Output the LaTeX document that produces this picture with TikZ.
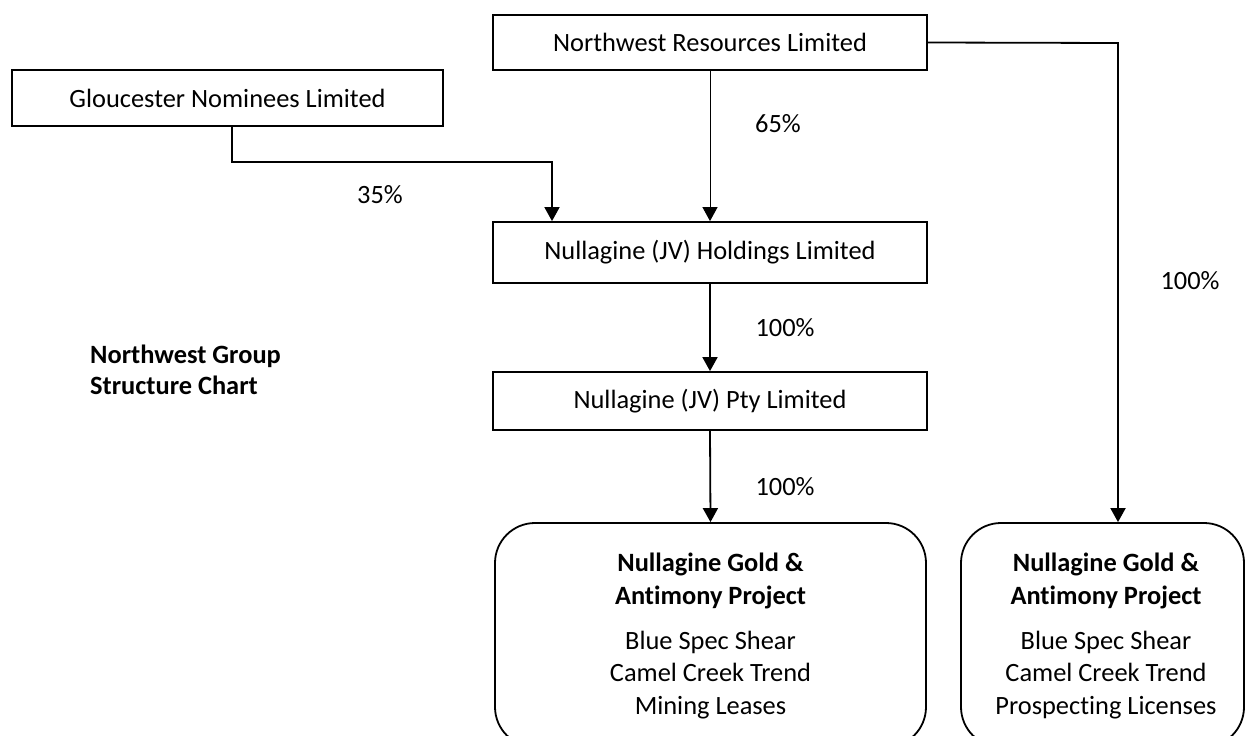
\documentclass[tikz,border=0pt]{standalone}
\usepackage{fontspec}
\setmainfont[Ligatures=NoCommon]{Carlito}
\usetikzlibrary{arrows.meta}
\tikzset{
  box/.style={draw, line width=1.8pt, inner sep=0pt, font=\fontsize{26.4}{30}\selectfont},
  proj/.style={draw, line width=1.8pt, rounded corners=40pt, inner sep=0pt},
  projtext/.style={anchor=north, inner sep=0pt, align=center, font=\fontsize{26.4}{32.7}\selectfont},
  lbl/.style={inner sep=0pt, font=\fontsize{26.4}{30}\selectfont},
  conn/.style={line width=1.8pt, -{Triangle[width=15pt,length=14pt]}},
  thinconn/.style={line width=1pt, -{Triangle[width=15pt,length=14pt]}},
  plain/.style={line width=1.8pt}
}
\begin{document}
\begin{tikzpicture}[x=1pt,y=-1pt]
\useasboundingbox (0,0) rectangle (1245,736);
\clip (0,0) rectangle (1245,736);
\node[box, minimum width=434pt, minimum height=55pt] (nrl) at (710,42.5) {Northwest Resources Limited};
\node[box, minimum width=431pt, minimum height=56pt] (gn) at (227.5,98) {Gloucester Nominees Limited};
\node[box, minimum width=434pt, minimum height=61pt] (hold) at (710,252.5) {Nullagine (JV) Holdings Limited};
\node[box, minimum width=434pt, minimum height=58pt] (pty) at (710,401) {Nullagine (JV) Pty Limited};
\node[proj, minimum width=431pt, minimum height=224pt] (pl) at (710.5,635) {};
\node[proj, minimum width=283pt, minimum height=224pt] (pr) at (1102.5,635) {};
\node[projtext] (plt) at (710.5,553) {\textbf{Nullagine Gold \&}\\\textbf{Antimony Project}\\[12pt]Blue Spec Shear\\Camel Creek Trend\\Mining Leases};
\node[projtext] (prt) at (1106,553) {\textbf{Nullagine Gold \&}\\\textbf{Antimony Project}\\[12pt]Blue Spec Shear\\Camel Creek Trend\\Prospecting Licenses};
\node[projtext, anchor=north west, align=left, font=\fontsize{26.4}{31}\selectfont] (title) at (90,345) {\textbf{Northwest Group}\\\textbf{Structure Chart}};
% connectors
\coordinate (gk) at (552,162);
\coordinate (rk) at (1118,43);
\draw[thinconn] (nrl.south) -- (hold.north);
\draw[conn] ([xshift=4.5pt]gn.south) |- (gk) -- (hold.north -| gk);
\draw[conn] (nrl.east) -- (rk) -- (pr.north -| rk);
\draw[conn] (hold.south) -- (pty.north);
\draw[conn] (pty.south) -- (pl.north);
% labels
\node[lbl] (l65) at (778,124) {65\%};
\node[lbl] (l35) at (380,195) {35\%};
\node[lbl] (l100r) at (1190,281) {100\%};
\node[lbl] (l100a) at (785,328) {100\%};
\node[lbl] (l100b) at (785,487) {100\%};
\end{tikzpicture}
\end{document}
